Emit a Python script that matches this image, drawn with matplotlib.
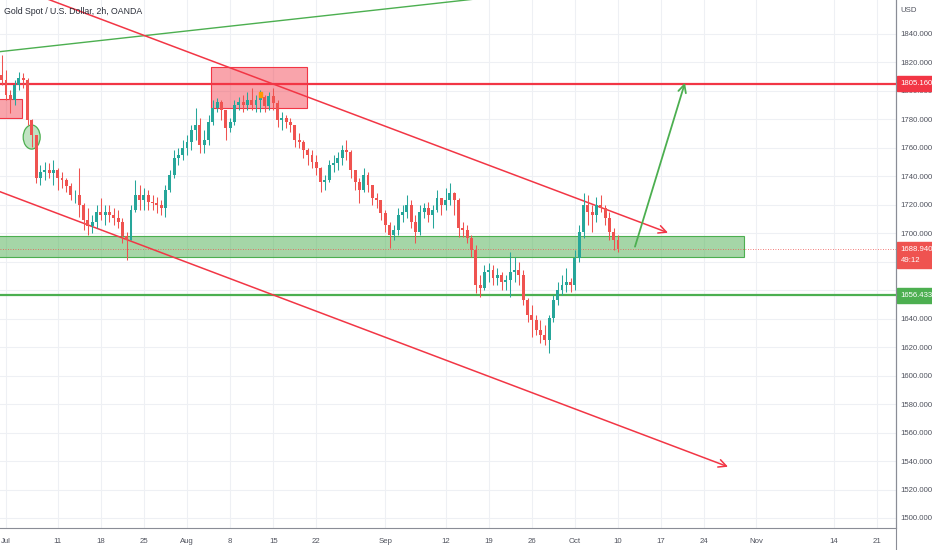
import matplotlib.pyplot as plt
import matplotlib.patches as mpatches
import matplotlib.transforms as mtransforms
import numpy as np

title = "Gold Spot / U.S. Dollar, 2h, OANDA"

# candles, one per half trading day starting just before Jul 1 2022
first_open = 1811.2
closes = [1807.7, 1797.2, 1793.6, 1804.2, 1809.1, 1807.7, 1779.6, 1769.0, 1738.8, 1743.1,
          1744.5, 1742.4, 1744.5, 1738.8, 1737.4, 1733.2, 1726.9, 1726.9, 1719.9, 1709.3,
          1705.1, 1707.9, 1715.0, 1712.9, 1715.0, 1712.9, 1710.7, 1707.9, 1698.1, 1695.3,
          1716.4, 1726.9, 1723.4, 1726.9, 1722.0, 1721.3, 1719.9, 1717.8, 1730.4, 1740.9,
          1752.9, 1755.0, 1759.9, 1764.1, 1772.6, 1776.1, 1762.0, 1765.5, 1778.2, 1788.0,
          1792.2, 1786.6, 1774.0, 1778.2, 1790.1, 1792.2, 1790.1, 1793.6, 1790.1, 1793.6,
          1795.7, 1789.4, 1796.4, 1791.5, 1779.6, 1781.0, 1778.2, 1776.1, 1765.5, 1764.1,
          1758.5, 1755.0, 1750.1, 1745.9, 1736.0, 1737.4, 1748.0, 1749.4, 1752.9, 1758.5,
          1757.1, 1744.5, 1736.0, 1730.4, 1740.9, 1733.9, 1724.8, 1723.4, 1714.3, 1705.8,
          1698.8, 1702.3, 1712.9, 1715.0, 1719.9, 1707.9, 1700.9, 1715.0, 1717.8, 1712.9,
          1716.4, 1724.8, 1719.9, 1723.4, 1728.3, 1723.4, 1703.7, 1702.3, 1696.7, 1688.3,
          1663.7, 1661.6, 1672.8, 1674.2, 1668.6, 1670.7, 1665.8, 1667.2, 1672.8, 1674.2,
          1670.7, 1653.1, 1642.6, 1639.1, 1632.1, 1628.5, 1625.0, 1640.5, 1653.1, 1660.2,
          1663.7, 1665.8, 1663.7, 1682.6, 1700.9, 1719.9, 1715.0, 1712.9, 1719.9, 1717.8,
          1710.7, 1700.9, 1695.3, 1688.94]
highs = [1825.2, 1814.7, 1800.7, 1807.7, 1813.3, 1812.6, 1809.1, 1780.0, 1769.0, 1748.0,
         1750.1, 1749.4, 1751.5, 1745.9, 1743.1, 1738.8, 1735.3, 1730.4, 1745.9, 1721.3,
         1717.8, 1712.9, 1719.9, 1724.8, 1719.9, 1719.9, 1717.8, 1716.4, 1710.7, 1700.9,
         1719.9, 1737.4, 1733.9, 1731.8, 1730.4, 1726.9, 1725.5, 1723.4, 1733.9, 1744.5,
         1758.5, 1759.9, 1765.5, 1769.0, 1776.1, 1788.0, 1781.0, 1772.6, 1783.1, 1793.6,
         1795.0, 1793.6, 1786.6, 1781.0, 1793.6, 1795.7, 1797.2, 1799.3, 1802.1, 1797.2,
         1800.7, 1797.2, 1799.3, 1802.1, 1793.6, 1785.2, 1783.1, 1781.0, 1776.1, 1770.4,
         1765.5, 1759.9, 1758.5, 1755.0, 1746.5, 1740.9, 1751.5, 1755.0, 1757.1, 1762.0,
         1765.5, 1758.5, 1744.5, 1738.8, 1745.9, 1743.1, 1733.9, 1728.3, 1723.4, 1716.4,
         1707.9, 1705.8, 1717.8, 1719.9, 1726.9, 1723.4, 1712.9, 1719.9, 1721.3, 1722.0,
         1719.9, 1730.4, 1724.8, 1731.8, 1735.3, 1729.0, 1724.8, 1707.9, 1705.8, 1698.8,
         1691.8, 1670.7, 1677.7, 1679.1, 1677.7, 1675.6, 1672.8, 1670.7, 1686.8, 1683.3,
         1679.8, 1674.2, 1654.5, 1649.6, 1642.6, 1639.1, 1635.6, 1642.6, 1656.6, 1665.8,
         1670.7, 1675.6, 1668.6, 1688.3, 1705.8, 1728.3, 1726.9, 1719.9, 1725.5, 1726.9,
         1719.9, 1715.0, 1703.7, 1698.8]
lows = [1804.2, 1793.6, 1784.5, 1790.1, 1800.7, 1802.1, 1776.1, 1760.6, 1735.3, 1733.9,
        1737.4, 1738.8, 1733.9, 1730.4, 1731.8, 1729.0, 1723.4, 1721.3, 1711.4, 1702.3,
        1698.8, 1700.2, 1703.7, 1709.3, 1705.8, 1707.9, 1705.8, 1703.7, 1693.2, 1681.2,
        1695.3, 1715.0, 1716.4, 1716.4, 1716.4, 1716.4, 1714.3, 1712.9, 1711.4, 1729.0,
        1738.8, 1748.0, 1751.5, 1755.0, 1758.5, 1765.5, 1756.4, 1756.4, 1762.0, 1776.1,
        1785.2, 1779.6, 1765.5, 1771.1, 1776.1, 1786.6, 1785.2, 1786.6, 1786.6, 1785.2,
        1785.2, 1785.2, 1786.6, 1786.6, 1774.7, 1772.6, 1774.0, 1771.1, 1760.6, 1759.9,
        1752.9, 1748.0, 1745.9, 1740.9, 1729.0, 1730.4, 1736.0, 1743.1, 1744.5, 1748.0,
        1751.5, 1738.8, 1730.4, 1721.3, 1729.0, 1729.0, 1719.9, 1717.8, 1709.3, 1700.9,
        1689.7, 1695.3, 1698.8, 1707.9, 1710.7, 1703.7, 1693.2, 1698.8, 1710.7, 1707.9,
        1703.7, 1715.0, 1712.9, 1716.4, 1719.9, 1712.9, 1697.4, 1697.4, 1693.2, 1683.3,
        1658.1, 1655.2, 1660.2, 1665.8, 1663.7, 1663.7, 1660.2, 1660.2, 1655.2, 1665.8,
        1663.7, 1649.6, 1637.6, 1627.1, 1628.5, 1622.9, 1621.5, 1615.9, 1637.6, 1649.6,
        1656.6, 1658.7, 1658.7, 1660.2, 1679.8, 1696.7, 1705.8, 1700.9, 1707.9, 1715.0,
        1705.8, 1695.3, 1688.3, 1686.8]

tick_dates = ['2022-07-01', '2022-07-11', '2022-07-18', '2022-07-25', '2022-08-01',
              '2022-08-08', '2022-08-15', '2022-08-22', '2022-09-01', '2022-09-12',
              '2022-09-19', '2022-09-26', '2022-10-03', '2022-10-10', '2022-10-17',
              '2022-10-24', '2022-11-01', '2022-11-14', '2022-11-21']
tick_labels = ['Jul', '11', '18', '25', 'Aug', '8', '15', '22', 'Sep', '12', '19', '26',
               'Oct', '10', '17', '24', 'Nov', '14', '21']
price_ticks = [1500, 1520, 1540, 1560, 1580, 1600, 1620, 1640, 1660, 1680, 1700, 1720,
               1740, 1760, 1780, 1800, 1820, 1840]

resistance = 1805.160
support = 1656.433
last_price = 1688.940
countdown = "49:12"

RED = '#f23645'
GREEN = '#4caf50'
UP = '#26a69a'
DOWN = '#ef5350'
TXT = '#50535e'
plt.rcParams['font.family'] = ['Liberation Sans', 'DejaVu Sans']

opens = np.r_[first_open, closes[:-1]]
closes = np.array(closes)
highs = np.maximum(np.array(highs), np.maximum(opens, closes))
lows = np.minimum(np.array(lows), np.minimum(opens, closes))
# x axis = trading days since Jul 1 (weekends removed like TradingView)
t = np.arange(len(closes)) * 0.5 - 0.5
tick_x = np.busday_count('2022-07-01', np.array(tick_dates, dtype='datetime64[D]'))

fig = plt.figure(figsize=(9.32, 5.5), dpi=100)
ax = fig.add_axes([0, 22 / 550, 896 / 932, 528 / 550])
ax.set_xlim(-0.696, 103.25)
ax.set_ylim(1492.97, 1863.88)

ax.set_yticks(price_ticks)
ax.yaxis.tick_right()
# labels sitting behind the price tags are hidden, as TradingView does
hidden = (1660, 1680)
ax.set_yticklabels(["" if v in hidden else f"{v:.3f}" for v in price_ticks])
ax.set_xticks(tick_x)
ax.set_xticklabels(tick_labels)
ax.tick_params(axis='both', length=0, labelsize=5.6, colors=TXT)
ax.tick_params(axis='x', pad=7)
ax.tick_params(axis='y', pad=3)
ax.grid(True, color='#eef0f4', lw=0.8)
ax.set_axisbelow(True)
for s in ['top', 'left']:
    ax.spines[s].set_visible(False)
ax.spines['right'].set_color('#8a8d96')
ax.spines['bottom'].set_color('#8a8d96')

# zones
ax.add_patch(mpatches.Rectangle((-1, 1683.6), 86.6, 14.5, facecolor=GREEN, alpha=0.5,
                                edgecolor='none', zorder=1))
ax.add_patch(mpatches.Rectangle((-1, 1683.6), 86.6, 14.5, facecolor='none',
                                edgecolor=GREEN, lw=0.8, zorder=1))
ax.add_patch(mpatches.Rectangle((23.78, 1788.0), 11.14, 28.8, facecolor=RED, alpha=0.45,
                                edgecolor='none', zorder=1))
ax.add_patch(mpatches.Rectangle((23.78, 1788.0), 11.14, 28.8, facecolor='none',
                                edgecolor=RED, lw=0.8, zorder=1))
ax.add_patch(mpatches.Rectangle((-1, 1781.0), 2.82, 13.3, facecolor=RED, alpha=0.45,
                                edgecolor='none', zorder=1))
ax.add_patch(mpatches.Rectangle((-1, 1781.0), 2.82, 13.3, facecolor='none',
                                edgecolor=RED, lw=0.8, zorder=1))
ax.add_patch(mpatches.Ellipse((2.98, 1767.6), 1.97, 16.9, facecolor=GREEN, alpha=0.35,
                              edgecolor='none', zorder=1))
ax.add_patch(mpatches.Ellipse((2.98, 1767.6), 1.97, 16.9, facecolor='none',
                              edgecolor=GREEN, lw=0.9, zorder=1))

# candles
up = closes >= opens
colors = np.where(up, UP, DOWN)
ax.vlines(t, lows, highs, colors=colors, lw=0.75, zorder=3)
ax.bar(t, np.abs(closes - opens) + 0.4, bottom=np.minimum(opens, closes) - 0.2,
       width=0.34, color=colors, zorder=3)
ax.add_patch(mpatches.Rectangle((29.3, 1795.7), 0.35, 3.6, color='#ff9800', zorder=4))

# horizontal levels
ax.axhline(resistance, color=RED, lw=1.6, zorder=2)
ax.axhline(support, color=GREEN, lw=1.6, zorder=2)
ax.axhline(last_price, color=DOWN, lw=0.6, ls=(0, (1, 2)), zorder=2)

# trend lines
ax.plot([-1, 60], [1827.4, 1868.3], color=GREEN, lw=1.0, zorder=2)
arrow = dict(arrowstyle='->', lw=1.1, mutation_scale=14, shrinkA=0, shrinkB=0)
ax.annotate('', xy=(76.8, 1700.4), xytext=(4.0, 1866.4),
            arrowprops=dict(arrow, color=RED), zorder=2)
ax.annotate('', xy=(83.76, 1536.0), xytext=(-1, 1729.9),
            arrowprops=dict(arrow, color=RED), zorder=2)
ax.annotate('', xy=(78.77, 1805.8), xytext=(72.97, 1690.6),
            arrowprops=dict(arrow, color=GREEN, lw=1.3), zorder=5)

# price tags on the right scale
trans = mtransforms.blended_transform_factory(ax.transAxes, ax.transData)
for price, col, lines in [(resistance, RED, [f"{resistance:.3f}"]),
                          (support, GREEN, [f"{support:.3f}"]),
                          (last_price, DOWN, [f"{last_price:.3f}", countdown])]:
    h = 10.5 if len(lines) == 1 else 18.5
    ax.add_patch(mpatches.Rectangle((1.001, price - h + 5.25), 0.04, h, transform=trans,
                                    color=col, clip_on=False, zorder=6))
    for k, txt in enumerate(lines):
        ax.text(1.005, price - k * 8.4, txt, transform=trans, color='white', fontsize=5.6,
                va='center', ha='left', clip_on=False, zorder=7)

fig.text(900 / 932, 1 - 10 / 550, 'USD', fontsize=5.6, color=TXT, va='center')
fig.text(4 / 932, 1 - 12 / 550, title, fontsize=6.3, color='#2a2e39', va='center')
fig.add_artist(plt.Line2D([896 / 932, 896 / 932], [0, 1], color='#8a8d96', lw=0.8))

fig.savefig('out.png', dpi=100)
